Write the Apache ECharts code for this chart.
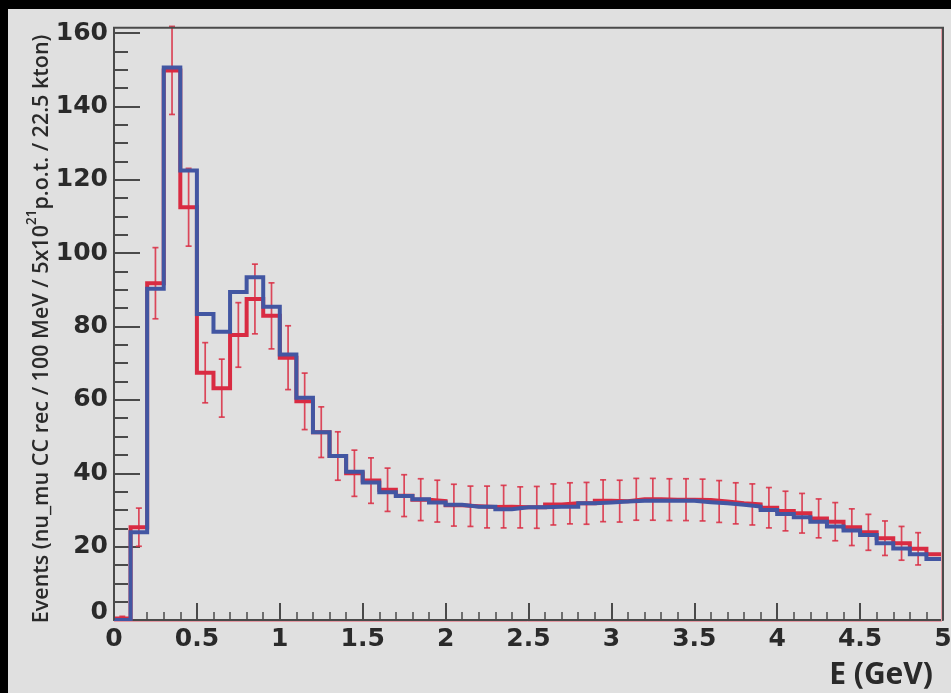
<!DOCTYPE html>
<html>
<head>
<meta charset="utf-8">
<script src="https://cdn.jsdelivr.net/npm/echarts@6/dist/echarts.min.js"></script>
<style>
  html, body { margin: 0; padding: 0; background: #000; width: 951px; height: 693px; overflow: hidden; }
  #chart { position: absolute; left: 8px; top: 9px; width: 943px; height: 684px; }
</style>
</head>
<body>
<div id="chart"></div>
<script>
// Reconstructed energy spectrum, 50 bins of 100 MeV from 0 to 5 GeV.
const BIN_WIDTH = 0.1;

// Axis ticks (GeV and events)
const xTicks = [0, 0.5, 1, 1.5, 2, 2.5, 3, 3.5, 4, 4.5, 5];
const yTicks = [0, 20, 40, 60, 80, 100, 120, 140, 160];

// Blue histogram (prediction), one value per bin
const predicted = [
  0, 23.9, 90.3, 150.6, 122.5, 83.4, 78.6, 89.4, 93.4, 85.4,
  72.4, 60.6, 51.2, 44.7, 40.4, 37.5, 34.8, 33.8, 32.9, 32.0,
  31.4, 30.9, 30.9, 30.2, 30.7, 30.7, 30.9, 30.9, 31.8, 32.0,
  32.3, 32.5, 32.5, 32.5, 32.5, 32.1, 31.8, 31.4, 30.9, 30.0,
  28.9, 28.0, 26.8, 25.5, 24.4, 23.2, 20.9, 19.5, 17.9, 16.6
];

// Red histogram (with statistical errors), one value per bin
const measured = [
  0.4, 25.3, 91.8, 149.8, 112.5, 67.4, 63.2, 77.7, 87.5, 82.9,
  71.5, 59.6, 51.2, 44.7, 40.0, 38.0, 35.5, 33.9, 32.8, 32.4,
  31.3, 31.0, 30.8, 30.9, 30.7, 30.7, 31.5, 31.8, 31.8, 32.5,
  32.4, 32.9, 32.9, 32.8, 32.8, 32.7, 32.3, 31.8, 31.5, 30.6,
  29.7, 29.1, 27.7, 26.8, 25.3, 23.9, 22.3, 20.9, 19.4, 17.9
];
const measuredErr = [
  0.6, 5.2, 9.7, 12.0, 10.6, 8.2, 7.9, 8.8, 9.5, 9.0,
  8.7, 7.7, 6.9, 6.6, 6.3, 6.2, 5.9, 5.7, 5.7, 5.7,
  5.7, 5.5, 5.7, 5.8, 5.6, 5.7, 5.6, 5.6, 5.7, 5.7,
  5.7, 5.7, 5.7, 5.7, 5.7, 5.7, 5.7, 5.6, 5.6, 5.5,
  5.4, 5.4, 5.3, 5.2, 5.0, 4.9, 4.7, 4.6, 4.4, null
];

const X_MIN = xTicks[0], X_MAX = xTicks[xTicks.length - 1];
const Y_MIN = yTicks[0], Y_MAX = yTicks[yTicks.length - 1];
const FRAME_TOP = 161.4;   // the frame closes slightly above the last label

const BLUE = '#4256a2';
const RED = '#d92b42';
const AXIS = '#4a4a4a';
const TEXT = '#2a2a2a';

const binLow = predicted.map((_, i) => +(i * BIN_WIDTH).toFixed(2));
const binCenter = binLow.map(x => +(x + BIN_WIDTH / 2).toFixed(3));

// step outline: each bin's value held from its low edge to the next edge
function stepPoints(values) {
  const pts = values.map((v, i) => [binLow[i], v]);
  pts.push([X_MAX, values[values.length - 1]]);
  return pts;
}

const chart = echarts.init(document.getElementById('chart'), null, { renderer: 'canvas' });

const tickLabelStyle = {
  fontFamily: 'DejaVu Sans', fontWeight: 'bold', fontSize: 25, color: TEXT
};

chart.setOption({
  backgroundColor: '#e0e0e0',
  animation: false,
  grid: { left: 106, top: 24, right: 8, bottom: 73, outerBoundsMode: 'none', containLabel: false },
  xAxis: {
    type: 'value', min: X_MIN, max: X_MAX, interval: xTicks[1] - xTicks[0],
    axisLine: { show: true, onZero: false, lineStyle: { color: AXIS, width: 2 } },
    axisTick: { show: true, inside: true, length: 17, lineStyle: { color: AXIS, width: 2 } },
    minorTick: { show: true, splitNumber: 5, length: 8, lineStyle: { color: AXIS, width: 1.5 } },
    splitLine: { show: false },
    minorSplitLine: { show: false },
    axisLabel: Object.assign({ margin: 7, showMinLabel: true, showMaxLabel: true, hideOverlap: false }, tickLabelStyle)
  },
  yAxis: {
    type: 'value', min: Y_MIN, max: Y_MAX, interval: yTicks[1] - yTicks[0],
    axisLine: { show: true, onZero: false, lineStyle: { color: AXIS, width: 2 } },
    axisTick: { show: true, inside: true, length: 26, lineStyle: { color: AXIS, width: 2 } },
    minorTick: { show: true, splitNumber: 4, length: 14, lineStyle: { color: AXIS, width: 2 } },
    splitLine: { show: false },
    minorSplitLine: { show: false },
    axisLabel: Object.assign({
      margin: 6, showMinLabel: true, showMaxLabel: true, hideOverlap: false,
      formatter: v => (v === 0 ? '{z|0}' : String(v)),
      rich: { z: Object.assign({ padding: [0, 0, 16, 0] }, tickLabelStyle) }
    }, tickLabelStyle)
  },
  series: [
    {
      name: 'measured', type: 'line', step: 'end', data: stepPoints(measured),
      symbol: 'none', silent: true, z: 2,
      lineStyle: { color: RED, width: 4, cap: 'butt', join: 'miter' }
    },
    {
      name: 'errors', type: 'custom', z: 2, silent: true, clip: false,
      data: measured.map((v, i) => [binCenter[i], v, measuredErr[i]]).filter(d => d[2] != null),
      renderItem: function (params, api) {
        const x = api.value(0), v = api.value(1), e = api.value(2);
        const top = api.coord([x, v + e]);
        const bot = api.coord([x, v - e]);
        const cap = 3;
        const style = { stroke: RED, lineWidth: 1.7, opacity: 0.85 };
        return {
          type: 'group',
          children: [
            { type: 'line', shape: { x1: top[0], y1: top[1], x2: bot[0], y2: bot[1] }, style },
            { type: 'line', shape: { x1: top[0] - cap, y1: top[1], x2: top[0] + cap, y2: top[1] }, style },
            { type: 'line', shape: { x1: bot[0] - cap, y1: bot[1], x2: bot[0] + cap, y2: bot[1] }, style }
          ]
        };
      }
    },
    {
      name: 'predicted', type: 'line', step: 'end', data: stepPoints(predicted),
      symbol: 'none', silent: true, z: 3,
      lineStyle: { color: BLUE, width: 4, cap: 'butt', join: 'miter' }
    }
  ]
});

// Frame, red box edge and axis titles placed from the axis scales
const [xl, yb] = chart.convertToPixel({ gridIndex: 0 }, [X_MIN, Y_MIN]);
const [xr, yt] = chart.convertToPixel({ gridIndex: 0 }, [X_MAX, FRAME_TOP]);

chart.setOption({
  graphic: [
    {
      type: 'polyline', z: 50, silent: true,
      shape: { points: [[xl, yb + 1.5], [xr - 1.5, yb + 1.5], [xr - 1.5, yt]] },
      style: { stroke: '#e49aa4', lineWidth: 1, fill: null }
    },
    {
      type: 'polyline', z: 60, silent: true,
      shape: { points: [[xl, yb], [xl, yt], [xr, yt], [xr, yb]] },
      style: { stroke: AXIS, lineWidth: 2, fill: null }
    },
    {
      type: 'text', z: 60, silent: true,
      x: 51, y: (yt + yb) / 2 + 5, rotation: Math.PI / 2,
      style: {
        text: 'Events (nu_mu CC rec / 100 MeV / 5x10{sup|21}p.o.t. / 22.5 kton)',
        fontFamily: 'Open Sans', fontWeight: 600, fontSize: 21.5, fill: TEXT,
        align: 'center', verticalAlign: 'bottom',
        rich: {
          sup: { fontFamily: 'Open Sans', fontWeight: 600, fontSize: 13.5, fill: TEXT, padding: [0, 0, 20, 0] }
        }
      }
    },
    {
      type: 'text', z: 60, silent: true,
      x: xr - 10, y: yb + 55,
      style: {
        text: 'E (GeV)', fontFamily: 'Open Sans', fontWeight: 'bold', fontSize: 30, fill: TEXT,
        align: 'right', verticalAlign: 'middle'
      }
    }
  ]
});
</script>
</body>
</html>
